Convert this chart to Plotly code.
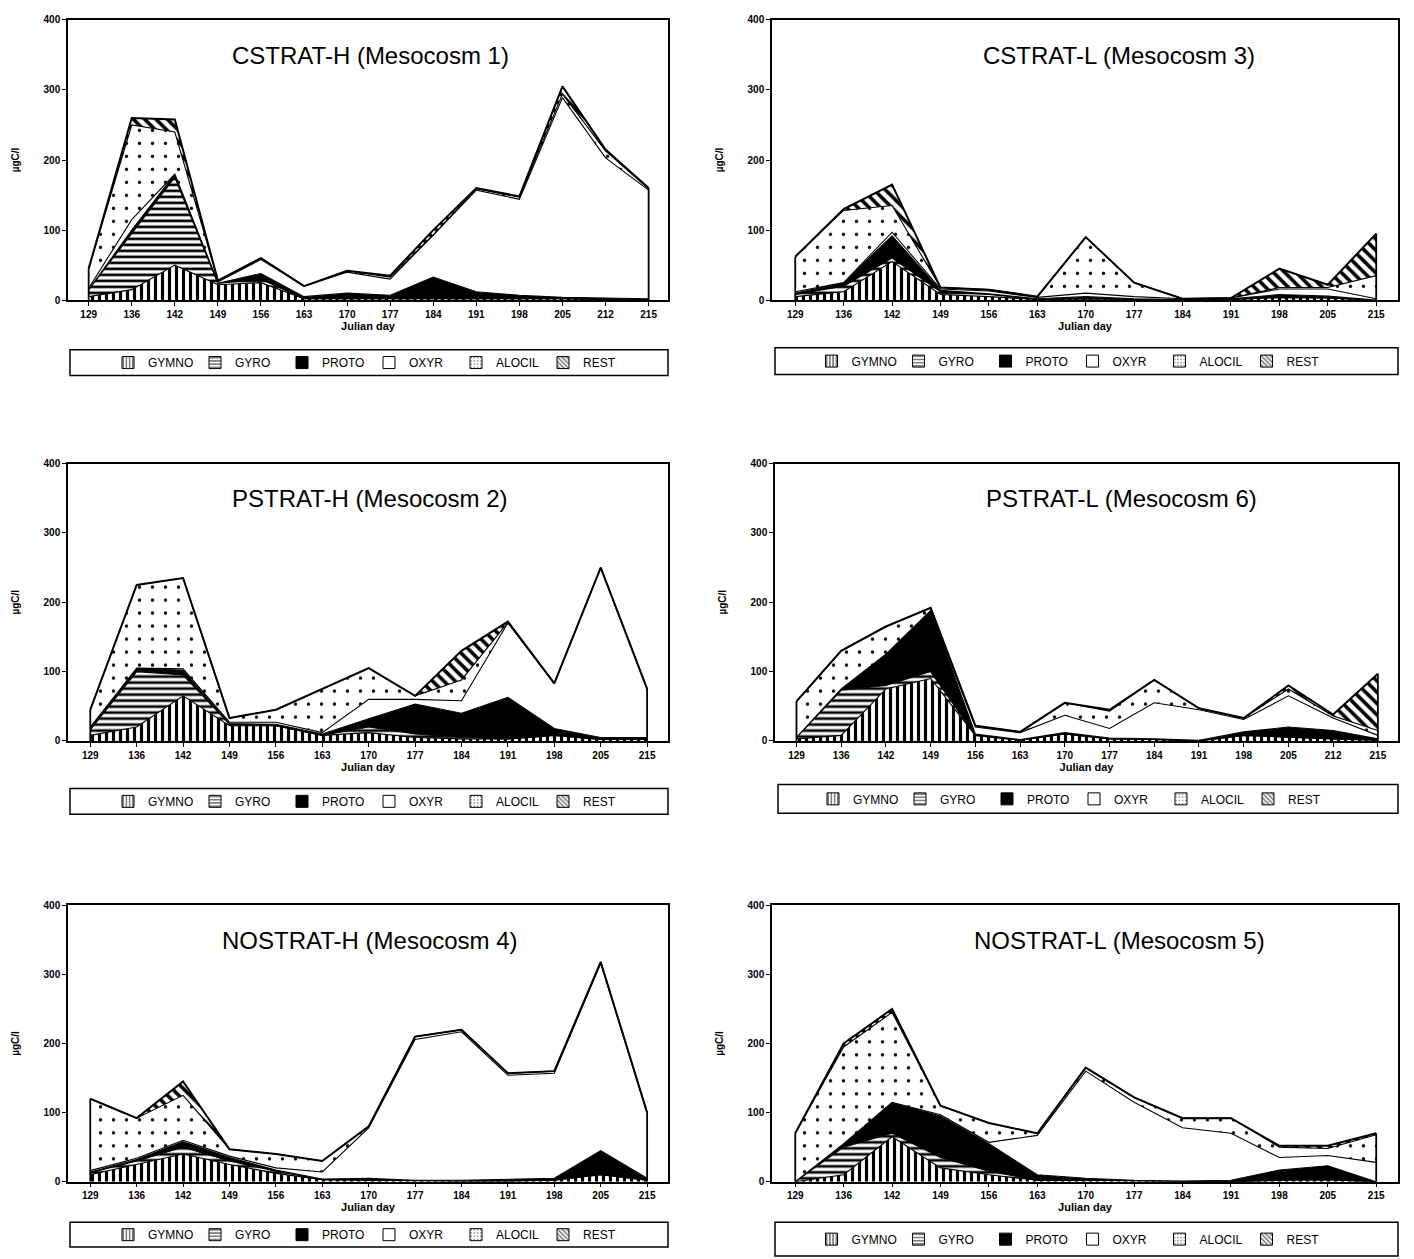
import plotly.graph_objects as go

# ---------------- DATA ----------------
SPECIES = ["GYMNO", "GYRO", "PROTO", "OXYR", "ALOCIL", "REST"]

days_14 = ["129", "136", "142", "149", "156", "163", "170", "177", "184", "191", "198", "205", "212", "215"]
days_13 = ["129", "136", "142", "149", "156", "163", "170", "177", "184", "191", "198", "205", "215"]

# CSTRAT-H (Mesocosm 1)
m1_gymno = [5, 15, 50, 22, 25, 2, 2, 2, 3, 2, 2, 2, 1, 1]
m1_gyro = [10, 80, 125, 2, 5, 0, 0, 0, 0, 0, 0, 0, 0, 0]
m1_proto = [0, 5, 5, 0, 8, 3, 8, 5, 30, 10, 5, 2, 2, 1]
m1_oxyr = [2, 15, 0, 2, 20, 15, 30, 23, 60, 145, 137, 285, 200, 155]
m1_alocil = [28, 135, 60, 2, 2, 0, 2, 3, 0, 2, 3, 5, 10, 2]
m1_rest = [0, 10, 18, 0, 0, 0, 0, 2, 7, 1, 1, 11, 2, 1]

# CSTRAT-L (Mesocosm 3)
m3_gymno = [5, 12, 55, 8, 5, 1, 2, 1, 0, 1, 4, 3, 0]
m3_gyro = [3, 8, 5, 4, 3, 0, 0, 0, 0, 0, 0, 0, 0]
m3_proto = [2, 5, 32, 2, 1, 1, 3, 1, 1, 1, 4, 3, 0]
m3_oxyr = [2, 0, 5, 2, 4, 2, 5, 3, 1, 1, 8, 10, 2]
m3_alocil = [50, 103, 38, 2, 2, 1, 80, 20, 0, 0, 2, 2, 33]
m3_rest = [0, 2, 30, 0, 0, 0, 0, 0, 0, 0, 27, 4, 60]

# PSTRAT-H (Mesocosm 2)
m2_gymno = [8, 20, 65, 22, 22, 8, 12, 5, 3, 3, 8, 2, 2]
m2_gyro = [8, 80, 30, 2, 0, 0, 8, 5, 2, 0, 0, 0, 0]
m2_proto = [2, 5, 7, 1, 2, 2, 12, 43, 35, 60, 10, 3, 3]
m2_oxyr = [2, 0, 2, 2, 3, 2, 28, 7, 18, 107, 65, 245, 70]
m2_alocil = [25, 120, 131, 6, 18, 63, 45, 5, 30, 1, 0, 0, 0]
m2_rest = [0, 0, 0, 0, 0, 0, 0, 0, 42, 1, 0, 0, 0]

# PSTRAT-L (Mesocosm 6)
m6_gymno = [3, 8, 75, 90, 8, 1, 10, 3, 2, 0, 8, 5, 3, 1]
m6_gyro = [2, 65, 5, 10, 0, 0, 0, 0, 0, 0, 0, 0, 0, 0]
m6_proto = [0, 2, 45, 88, 2, 1, 2, 1, 1, 1, 5, 15, 12, 2]
m6_oxyr = [0, 0, 0, 0, 10, 10, 25, 14, 52, 44, 18, 45, 18, 5]
m6_alocil = [52, 55, 40, 4, 2, 1, 18, 25, 33, 2, 2, 10, 3, 7]
m6_rest = [0, 0, 0, 0, 0, 0, 0, 2, 0, 0, 0, 5, 2, 82]

# NOSTRAT-H (Mesocosm 4)
m4_gymno = [10, 25, 40, 25, 12, 3, 2, 1, 1, 1, 2, 10, 2]
m4_gyro = [3, 5, 10, 5, 3, 0, 0, 0, 0, 0, 0, 0, 0]
m4_proto = [1, 2, 8, 5, 2, 1, 3, 1, 1, 2, 3, 35, 3]
m4_oxyr = [2, 2, 2, 2, 3, 10, 73, 204, 215, 151, 152, 271, 95]
m4_alocil = [104, 58, 65, 10, 20, 16, 2, 4, 3, 3, 3, 2, 0]
m4_rest = [0, 0, 20, 0, 0, 0, 0, 0, 0, 0, 0, 0, 0]

# NOSTRAT-L (Mesocosm 5)
m5_gymno = [0, 10, 65, 20, 10, 2, 2, 1, 0, 0, 2, 3, 0]
m5_gyro = [0, 40, 5, 15, 5, 0, 0, 0, 0, 0, 0, 0, 0]
m5_proto = [0, 5, 45, 60, 40, 8, 3, 1, 1, 2, 15, 20, 0]
m5_oxyr = [0, 0, 0, 2, 2, 57, 155, 113, 77, 68, 18, 15, 28]
m5_alocil = [70, 140, 130, 13, 28, 3, 5, 7, 14, 22, 15, 10, 40]
m5_rest = [0, 5, 5, 0, 0, 0, 0, 0, 0, 0, 2, 4, 2]

panels = [
    ("CSTRAT-H (Mesocosm 1)", days_14, [m1_gymno, m1_gyro, m1_proto, m1_oxyr, m1_alocil, m1_rest]),
    ("CSTRAT-L (Mesocosm 3)", days_13, [m3_gymno, m3_gyro, m3_proto, m3_oxyr, m3_alocil, m3_rest]),
    ("PSTRAT-H (Mesocosm 2)", days_13, [m2_gymno, m2_gyro, m2_proto, m2_oxyr, m2_alocil, m2_rest]),
    ("PSTRAT-L (Mesocosm 6)", days_14, [m6_gymno, m6_gyro, m6_proto, m6_oxyr, m6_alocil, m6_rest]),
    ("NOSTRAT-H (Mesocosm 4)", days_13, [m4_gymno, m4_gyro, m4_proto, m4_oxyr, m4_alocil, m4_rest]),
    ("NOSTRAT-L (Mesocosm 5)", days_13, [m5_gymno, m5_gyro, m5_proto, m5_oxyr, m5_alocil, m5_rest]),
]

# ---------------- STYLE / LAYOUT ----------------
W, H = 1414, 1259
FONT = "Liberation Sans, Arial, sans-serif"

# plot-area pixel boxes (left, top, right, bottom)
boxes = [
    (68, 14, 668, 297), (772, 14, 1398, 297),
    (68, 462, 668, 742), (775, 462, 1398, 742),
    (68, 908, 668, 1187), (772, 908, 1398, 1187),
]
title_pos = [(370, 50), (1119, 50), (370, 497), (1121, 497), (370, 943), (1119, 943)]
legend_boxes = [
    (70, 347, 668, 373), (775, 345, 1398, 372),
    (70, 790, 668, 816), (778, 786, 1398, 815),
    (70, 1228, 668, 1253), (775, 1228, 1398, 1262),
]
legend_shift = [0, -14, 0, -14, 0, -14]

styles = {
    "GYMNO": dict(color="white", pattern=dict(shape="|", size=7, solidity=0.45)),
    "GYRO": dict(color="white", pattern=dict(shape="-", size=6, solidity=0.45)),
    "PROTO": dict(color="black", pattern=None),
    "OXYR": dict(color="white", pattern=None),
    "ALOCIL": dict(color="white", pattern=dict(shape=".", size=13, solidity=0.05)),
    "REST": dict(color="white", pattern=dict(shape="\\", size=8, solidity=0.45)),
}


def px_x(v):
    return v / W


def px_y(v):
    return 1 - v / H


fig = go.Figure()
layout = dict(
    width=W, height=H, margin=dict(l=0, r=0, t=0, b=0),
    paper_bgcolor="white", plot_bgcolor="white",
    font=dict(family=FONT, color="black"),
    showlegend=True, barmode="overlay",
    annotations=[], shapes=[],
)

for i, (title, days, values) in enumerate(panels):
    sfx = "" if i == 0 else str(i + 1)
    xa, ya = "x" + sfx, "y" + sfx
    leg = "legend" + sfx
    l, t, r, b = boxes[i]
    n = len(days)

    for sp, vals in zip(SPECIES, values):
        st = styles[sp]
        kw = {}
        if st["pattern"]:
            kw["fillpattern"] = dict(shape=st["pattern"]["shape"], size=st["pattern"]["size"],
                                     solidity=st["pattern"]["solidity"], fgcolor="black",
                                     bgcolor="white", fillmode="replace")
        fig.add_trace(go.Scatter(
            x=days, y=vals, mode="lines", stackgroup="s" + str(i),
            line=dict(color="black", width=2 if sp == "REST" else 1.1),
            fillcolor=st["color"], name=sp, showlegend=False,
            xaxis=xa, yaxis=ya, hoverinfo="skip", **kw))

    totals = [sum(v[k] for v in values) for k in range(n)]
    for k in (0, n - 1):
        fig.add_trace(go.Scatter(
            x=[days[k], days[k]], y=[0, totals[k]], mode="lines",
            line=dict(color="black", width=1.8), showlegend=False,
            xaxis=xa, yaxis=ya, hoverinfo="skip"))

    # legend proxies
    for sp in SPECIES:
        st = styles[sp]
        marker = dict(color=st["color"], line=dict(color="black", width=1))
        if st["pattern"]:
            marker["pattern"] = dict(shape=st["pattern"]["shape"], size=4,
                                     solidity=0.5 if sp != "ALOCIL" else 0.2,
                                     fgcolor="black", bgcolor="white")
        fig.add_trace(go.Bar(x=[None], y=[None], name=sp, marker=marker,
                             legend=leg, xaxis=xa, yaxis=ya, showlegend=True))

    axis_common = dict(showline=True, linecolor="black", linewidth=1.5, mirror=True,
                       showgrid=False, zeroline=False, ticks="outside", ticklen=4,
                       tickcolor="black",
                       tickfont=dict(family=FONT, size=10, color="black", weight="bold"))
    layout["xaxis" + sfx] = dict(
        axis_common, type="category", domain=[px_x(l), px_x(r)], anchor=ya,
        categoryorder="array", categoryarray=days, range=[-0.48, n - 0.55],
        title=dict(text="Julian day", standoff=2,
                   font=dict(family=FONT, size=11, color="black", weight="bold")))
    layout["yaxis" + sfx] = dict(
        axis_common, domain=[px_y(b), px_y(t)], anchor=xa, range=[0, 400],
        tickvals=[0, 100, 200, 300, 400],
        title=dict(text="µgC/l", standoff=22,
                   font=dict(family=FONT, size=10, color="black", weight="bold")))

    tx, ty = title_pos[i]
    layout["annotations"].append(dict(
        text=title, x=px_x(tx), y=px_y(ty), xref="paper", yref="paper",
        showarrow=False, xanchor="center", yanchor="middle",
        font=dict(family=FONT, size=24, color="black")))

    lx0, ly0, lx1, ly1 = legend_boxes[i]
    layout["shapes"].append(dict(
        type="rect", xref="paper", yref="paper", x0=px_x(lx0), x1=px_x(lx1),
        y0=px_y(ly1), y1=px_y(ly0), line=dict(color="black", width=1.5)))
    layout[leg] = dict(
        orientation="h", x=px_x((lx0 + lx1) / 2 + legend_shift[i]), y=px_y((ly0 + ly1) / 2),
        xanchor="center", yanchor="middle", bgcolor="rgba(0,0,0,0)", borderwidth=0,
        font=dict(family=FONT, size=12, color="black"), itemwidth=30,
        entrywidth=42, traceorder="normal", itemclick=False, itemdoubleclick=False)

fig.update_layout(**layout)
fig.write_html("out.html")
